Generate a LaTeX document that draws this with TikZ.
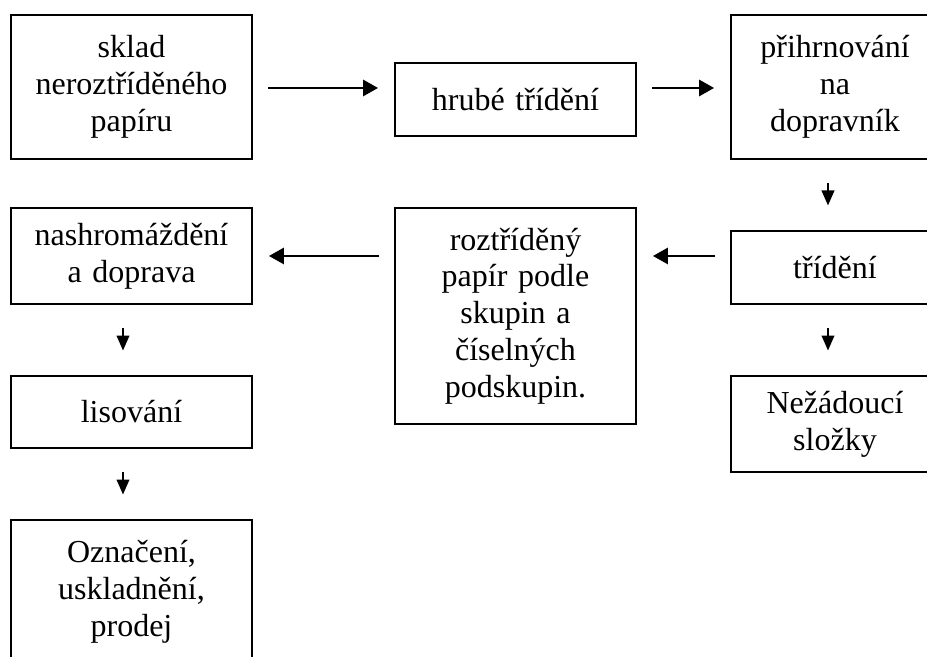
\documentclass[tikz,border=0pt]{standalone}
\usepackage{fontspec}
\setmainfont{Liberation Serif}
\usetikzlibrary{arrows.meta}

\tikzset{
  box/.style={draw, line width=0.75pt, align=center, inner sep=0pt,
    font=\fontsize{12pt}{13.8pt}\selectfont},
  flow/.style={-{Triangle[length=5.6pt,width=6.2pt]}, line width=0.5pt,
    shorten <=5.6pt, shorten >=6pt},
  down/.style={-{Triangle[length=5.6pt,width=4.8pt]}, line width=0.5pt,
    shorten <=8.8pt, shorten >=9.2pt}
}

\begin{document}
\begin{tikzpicture}[x=0.375pt,y=-0.375pt]
  \clip (0,0) rectangle (927,657);

  % Top row
  \node[box, minimum width=90.4pt, minimum height=54pt, text width=75pt] (sklad) at (131.5,87) {sklad neroztříděného papíru};
  \node[box, minimum width=90.4pt, minimum height=27.4pt, text width=75pt] (hrube) at (515.5,99.5) {hrubé třídění};
  \node[box, minimum width=78pt, minimum height=54pt, text width=57pt] (prihrn) at (835,87) {přihrnování na dopravník};

  % Middle row
  \node[box, minimum width=78pt, minimum height=27.4pt, text width=57pt] (trideni) at (835,267.5) {třídění};
  \node[box, minimum width=90.4pt, minimum height=81pt, text width=71pt] (roztr) at (515.5,316) {roztříděný papír podle skupin a číselných podskupin.};
  \node[box, minimum width=90.4pt, minimum height=36pt, text width=75pt] (nashrom) at (131.5,256) {nashromáždění a doprava};

  % Lower boxes
  \node[box, minimum width=78pt, minimum height=36pt, text width=57pt] (nezad) at (835,424) {Nežádoucí složky};
  \node[box, minimum width=90.4pt, minimum height=27pt, text width=75pt] (lis) at (131.5,412) {lisování};
  \node[box, minimum width=90.4pt, minimum height=54pt, text width=75pt] (ozn) at (131.5,592) {Označení, uskladnění, prodej};

  % Arrow columns
  \coordinate (lcol) at (123,0);
  \coordinate (rcol) at (828,0);

  % Arrows
  \draw[flow] (sklad.east |- 0,88) -- (hrube.west |- 0,88);
  \draw[flow] (hrube.east |- 0,88) -- (prihrn.west |- 0,88);
  \draw[down] (prihrn.south -| rcol) -- (trideni.north -| rcol);
  \draw[flow] (trideni.west |- nashrom.east) -- (roztr.east |- nashrom.east);
  \draw[flow] (roztr.west |- nashrom.east) -- (nashrom.east);
  \draw[down] (trideni.south -| rcol) -- (nezad.north -| rcol);
  \draw[down] (nashrom.south -| lcol) -- (lis.north -| lcol);
  \draw[down] (lis.south -| lcol) -- (ozn.north -| lcol);
\end{tikzpicture}
\end{document}
